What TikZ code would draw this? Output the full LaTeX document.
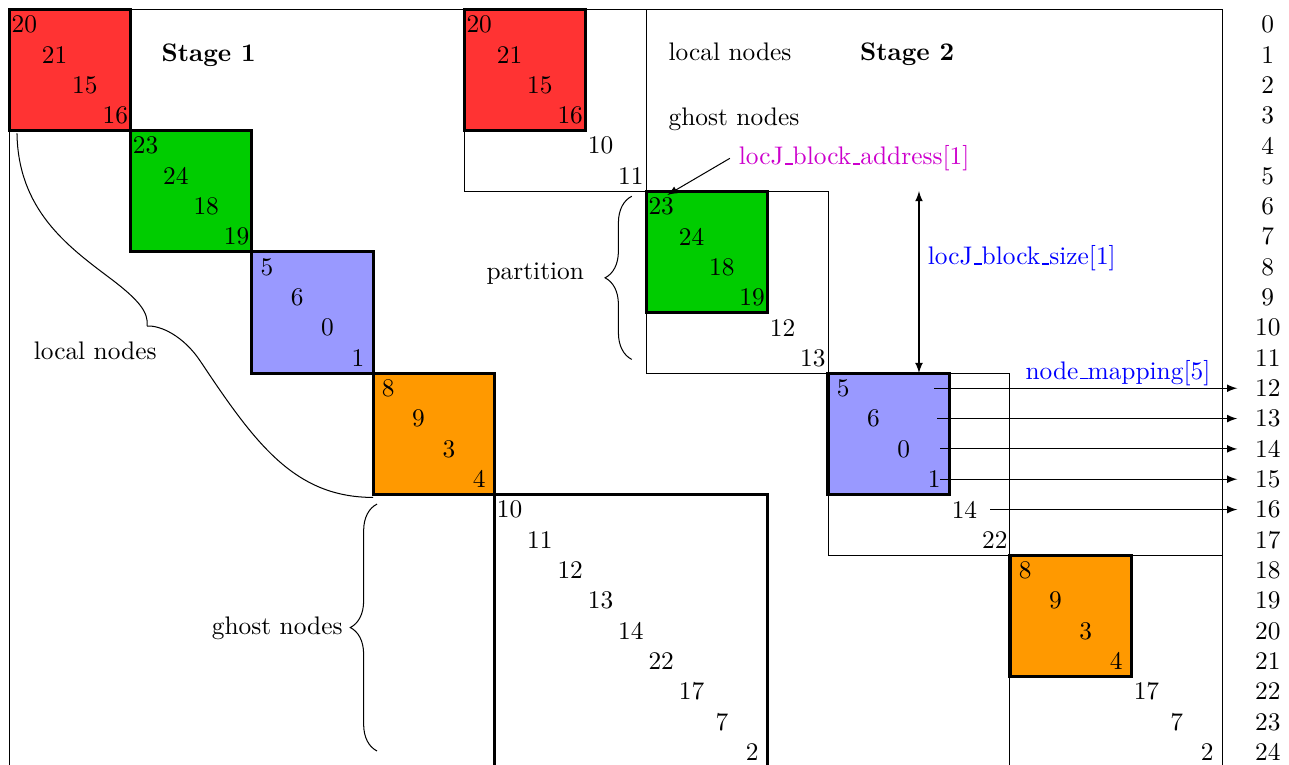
\documentclass[tikz,border=0pt]{standalone}
\usepackage{tikz}
\usepackage{amsmath}
\usetikzlibrary{decorations.pathreplacing}

\definecolor{blkred}{RGB}{255,51,51}
\definecolor{blkgreen}{RGB}{0,204,0}
\definecolor{blkblue}{RGB}{153,153,255}
\definecolor{blkorange}{RGB}{255,153,0}
\definecolor{addrcolor}{RGB}{204,0,204}

% short underscore as in the old OT1 fonts
\newcommand{\us}{\leavevmode\kern.06em\vbox{\hrule width.3em height.6pt}}

\begin{document}
\begin{tikzpicture}[x=0.42cm, y=0.42cm,
  blk/.style={very thick},
  brc/.style={decorate, decoration={brace, amplitude=0.37cm}}]

\useasboundingbox (-0.3,0.3) rectangle (42.2,-24.9);

% outer frame
\draw (0,0) rectangle (40,-25);

% Stage 1 blocks
\draw [blk, fill=blkred]    (0,0)     rectangle (4,-4);
\draw [blk, fill=blkgreen]  (4,-4)    rectangle (8,-8);
\draw [blk, fill=blkblue]   (8,-8)    rectangle (12,-12);
\draw [blk, fill=blkorange] (12,-12)  rectangle (16,-16);
\draw [blk]                 (16,-16)  rectangle (25,-25);

% Stage 2 blocks
\draw (15,0) rectangle (21,-6);
\draw [blk, fill=blkred]    (15,0)    rectangle (19,-4);
\draw (21,-6) rectangle (27,-12);
\draw [blk, fill=blkgreen]  (21,-6)   rectangle (25,-10);
\draw (27,-12) rectangle (33,-18);
\draw [blk, fill=blkblue]   (27,-12)  rectangle (31,-16);
\draw (33,-18) rectangle (40,-25);
\draw [blk, fill=blkorange] (33,-18)  rectangle (37,-22);

% node numbers on the diagonals
\foreach \v [count=\i from 0] in {20,21,15,16,23,24,18,19,5,6,0,1,8,9,3,4,10,11,12,13,14,22,17,7,2}
  \node (a\i) at (\i+0.5,-\i-0.5) {\v};
\foreach \v [count=\i from 0] in {20,21,15,16,10,11,23,24,18,19,12,13,5,6,0,1,14,22,8,9,3,4,17,7,2}
  \node (b\i) at (\i+15.5,-\i-0.5) {\v};

% row numbers
\foreach \i in {0,...,24}
  \node (r\i) at (41.5,-\i-0.5) {\i};

\node (st1) at (6.58,-1.52) {\textbf{Stage 1}};
\node (st2) at (29.61,-1.5) {\textbf{Stage 2}};
\node [anchor=west] (loc2) at (21.45,-1.41) {local nodes};
\node [anchor=west] (gho2) at (21.45,-3.63) {ghost nodes};

% brace for local nodes (stage 1)
\draw (0.26,-4.1) .. controls (0.3,-6.6) and (1.9,-7.8) .. (3.3,-8.85)
  .. controls (4.3,-9.6) and (4.6,-10.0) .. (4.55,-10.45);
\draw (4.55,-10.45) .. controls (5.0,-10.42) and (5.76,-10.79) .. (6.3,-11.6)
  .. controls (8.1,-14.3) and (9.4,-16.1) .. (12,-16.1);
\node (loc1) at (2.84,-11.27) {local nodes};

% brace for ghost nodes (stage 1)
\draw [brc] (12.13,-24.46) -- (12.13,-16.32);
\node (gho1) at (8.84,-20.4) {ghost nodes};

% brace for the partition (stage 2)
\draw [brc] (20.53,-11.55) -- (20.53,-6.17);
\node (part) at (17.35,-8.72) {partition};

% block address
\node [text=addrcolor] (addr) at (27.86,-4.92) {locJ\us block\us address[1]};
\coordinate (gtop) at (21.7,-6.13);
\draw [->,>=latex] (addr.west) -- (gtop);

% block size
\coordinate (szt) at (30,-6);
\coordinate (szb) at (30,-12);
\draw [<->,>=latex] (szt) -- (szb);
\node [text=blue] (bsz) at (33.39,-8.22) {locJ\us block\us size[1]};

% node mapping
\node [text=blue] (nmap) at (36.56,-12.0) {node\us mapping[5]};
\foreach \r/\s in {12/30.5, 13/30.6, 14/30.7, 15/30.7, 16/32.35} {
  \coordinate (m\r) at (\s,-\r-0.5);
  \draw [->,>=latex, shorten >=3.5pt] (m\r) -- (r\r.west);
}

\end{tikzpicture}
\end{document}
